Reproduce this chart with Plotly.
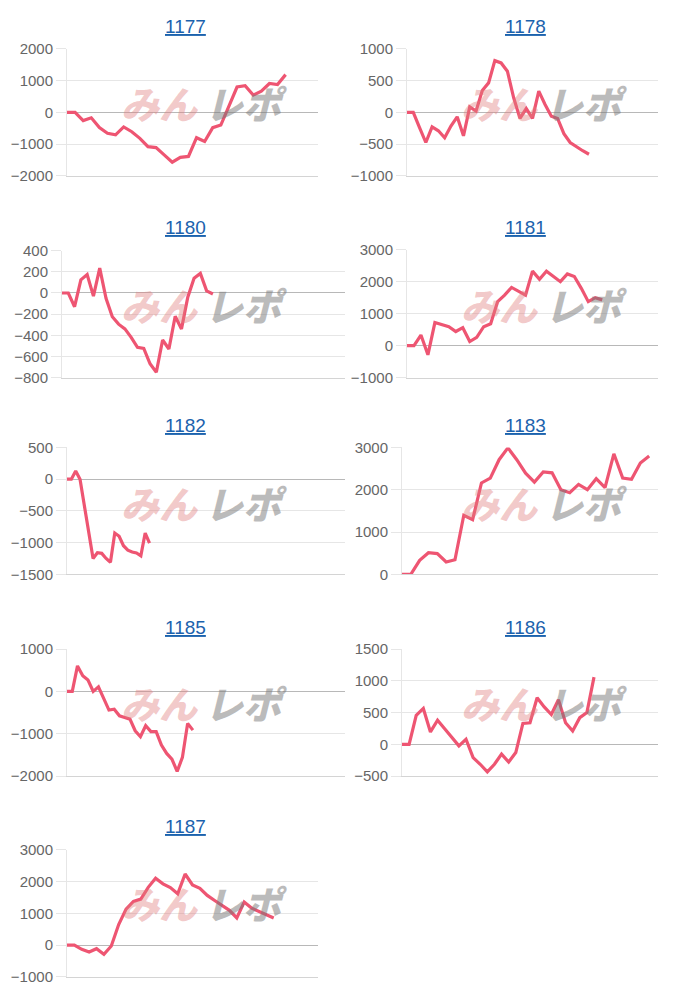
import plotly.graph_objects as go

# ---- data ----
titles = ["1177", "1178", "1180", "1181", "1182", "1183", "1185", "1186", "1187"]

v1177 = [0, 0, -260, -170, -480, -660, -710, -460, -610, -820, -1080, -1110, -1340, -1570,
         -1420, -1390, -800, -920, -480, -400, 200, 800, 840, 545, 670, 910, 880, 1190]
v1178 = [0, 0, -240, -475, -230, -290, -400, -215, -70, -370, 85, 20, 345, 465, 815, 780, 650,
         230, -95, 60, -95, 335, 125, -60, -95, -335, -475, -545, -605, -660]
v1180 = [0, 0, -130, 125, 175, -30, 235, -50, -225, -295, -340, -420, -515, -525, -670, -750,
         -445, -530, -220, -340, -40, 140, 185, 20, -10]
v1181 = [0, 0, 330, -290, 720, 650, 590, 440, 560, 125, 260, 590, 680, 1375, 1580, 1820, 1690,
         1580, 2330, 2075, 2330, 2160, 2000, 2240, 2160, 1790, 1375, 1500, 1430]
v1182 = [0, 0, 130, 0, -420, -830, -1250, -1160, -1170, -1250, -1310, -850, -900, -1050, -1120,
         -1150, -1165, -1210, -850, -1010]
v1183 = [0, 0, 330, 510, 490, 290, 345, 1395, 1290, 2160, 2275, 2710, 2990, 2710, 2390, 2180,
         2420, 2400, 2000, 1930, 2125, 2000, 2260, 2050, 2850, 2275, 2245, 2630, 2795]
v1185 = [0, 0, 605, 370, 270, 0, 110, -180, -440, -420, -575, -615, -655, -930, -1070, -810,
         -950, -950, -1270, -1465, -1600, -1890, -1560, -755, -915]
v1186 = [0, 0, 455, 565, 195, 380, 245, 105, -25, 80, -210, -315, -435, -315, -155, -280, -130,
         330, 340, 735, 590, 470, 705, 340, 210, 420, 500, 1060]
v1187 = [0, 0, -135, -220, -115, -290, -30, 645, 1135, 1375, 1450, 1820, 2105, 1930, 1810, 1615,
         2240, 1895, 1790, 1565, 1405, 1240, 1095, 855, 1355, 1165, 1060, 960, 855]

series = [v1177, v1178, v1180, v1181, v1182, v1183, v1185, v1186, v1187]

# number of category slots on each chart's x axis
x_slots = [31, 40, 45, 36, 64, 29, 53, 36, 34]

# y axis ranges and tick steps
y_ranges = [(-2000, 2000), (-1000, 1000), (-800, 400), (-1000, 3000), (-1500, 500),
            (0, 3000), (-2000, 1000), (-500, 1500), (-1000, 3000)]
y_steps = [1000, 500, 200, 1000, 500, 1000, 1000, 500, 1000]

watermark_a = "みん"
watermark_b = "レポ"

# ---- layout (page pixel boxes: left, right, top, bottom) ----
OX, OY, SY = 8, 16, 0.984   # observed page offset / vertical scale of the figure
FW, FH = 684, 984
boxes = [(67, 318, 48, 175), (407, 658, 48, 175),
         (62, 345, 250, 377), (407, 658, 249, 377),
         (67, 345, 447, 574), (402, 658, 447, 574),
         (67, 345, 649, 776), (402, 658, 649, 776),
         (67, 318, 850, 977)]
title_pos = [(185, 26), (525, 26), (185, 227), (525, 227), (185, 425), (525, 425),
             (185, 627), (525, 627), (185, 827)]
wm_pos = [(202, 102), (542, 102), (202, 304), (542, 304), (202, 502), (542, 502),
          (202, 702), (542, 702), (202, 903)]

LINE = "#ee5572"
GRID = "#e6e6e6"
ZERO = "#b8b8b8"
TICKFONT = dict(family="Liberation Sans, Arial, sans-serif", size=15, color="#666666")

fig = go.Figure()
annotations = []

def px_x(p):
    return (p - OX) / FW

def px_y(p):
    return 1 - ((p - OY) / SY) / FH

for i, vals in enumerate(series):
    n = i + 1
    xa = "x" if n == 1 else f"x{n}"
    ya = "y" if n == 1 else f"y{n}"
    fig.add_trace(go.Scatter(
        x=list(range(len(vals))), y=vals, mode="lines",
        line=dict(color=LINE, width=3.2), xaxis=xa, yaxis=ya,
        showlegend=False, hoverinfo="skip"))
    l, r, t, b = boxes[i]
    lo, hi = y_ranges[i]
    xkey = "xaxis" if n == 1 else f"xaxis{n}"
    ykey = "yaxis" if n == 1 else f"yaxis{n}"
    fig.layout[xkey] = dict(
        domain=[px_x(l), px_x(r)], range=[0, x_slots[i]], anchor=ya,
        showgrid=False, zeroline=False, showticklabels=False, ticks="",
        showline=True, linecolor="#d4d4d4", linewidth=1, fixedrange=True)
    fig.layout[ykey] = dict(
        domain=[px_y(b), px_y(t)], range=[lo, hi], anchor=xa,
        tickmode="linear", tick0=lo, dtick=y_steps[i],
        showgrid=True, gridcolor=GRID, gridwidth=1,
        zeroline=True, zerolinecolor=ZERO, zerolinewidth=1,
        showline=True, linecolor=GRID, linewidth=1,
        ticks="outside", ticklen=10, tickcolor=GRID, tickwidth=1,
        tickfont=TICKFONT, fixedrange=True)

    tx, ty = title_pos[i]
    annotations.append(dict(
        text=f"<u>{titles[i]}</u>", x=px_x(tx), y=px_y(ty), xref="paper", yref="paper",
        showarrow=False, xanchor="center", yanchor="middle",
        font=dict(family="Liberation Sans, Arial, sans-serif", size=19, color="#1b62ad")))

    wx, wy = wm_pos[i]
    annotations.append(dict(
        text=watermark_a, x=px_x(wx - 1), y=px_y(wy), xref="paper", yref="paper",
        showarrow=False, xanchor="right", yanchor="middle",
        font=dict(family="Noto Sans CJK JP", size=38, color="rgba(225,125,125,0.42)",
                  weight=900, style="italic")))
    annotations.append(dict(
        text=watermark_b, x=px_x(wx + 1), y=px_y(wy), xref="paper", yref="paper",
        showarrow=False, xanchor="left", yanchor="middle",
        font=dict(family="Noto Sans CJK JP", size=38, color="rgba(120,120,120,0.5)",
                  weight=900, style="italic")))

fig.update_layout(
    width=FW, height=FH, margin=dict(l=0, r=0, t=0, b=0),
    paper_bgcolor="white", plot_bgcolor="white",
    annotations=annotations, showlegend=False)

fig.write_html("out.html")
